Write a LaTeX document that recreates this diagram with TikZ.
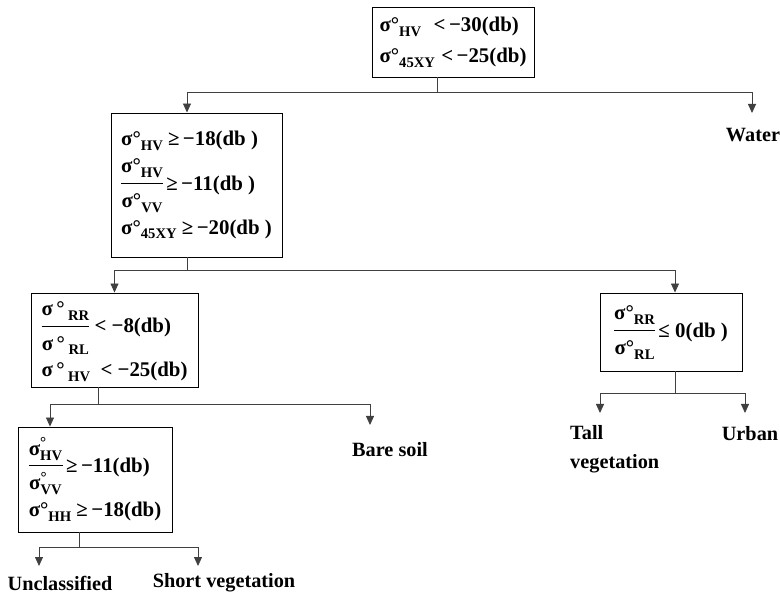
\documentclass[tikz,border=0pt]{standalone}
\usepackage{fontspec}
\setmainfont{Liberation Serif}
\usetikzlibrary{calc,arrows.meta}
\setlength{\arrayrulewidth}{1pt}

\newcommand{\sub}[1]{\raisebox{-0.5ex}{\fontsize{12.5}{13}\selectfont #1}}
\newcommand{\sg}[1]{σ°\sub{#1}}
\newcommand{\sgs}[1]{σ$^{\mbox{\fontsize{13}{13}\selectfont °}}_{\mbox{\fontsize{12.5}{13}\selectfont #1}}$}
\newcommand{\ratio}[2]{\begin{tabular}{@{}c@{}}#1\\[2pt]\hline\rule{0pt}{20pt}#2\end{tabular}}

\tikzset{
  box/.style={draw, line width=0.8pt, align=left, inner sep=0pt, font=\fontsize{17.8}{21.5}\selectfont\bfseries},
  leaf/.style={inner sep=0pt, align=left},
  link/.style={draw=black!75, line width=0.7pt},
  arr/.style={link, -{Triangle[length=0.27cm,width=0.24cm]}}
}

\begin{document}
\begin{tikzpicture}[x=0.03cm, y=-0.03cm, font=\fontsize{17.3}{21}\selectfont\bfseries]
\useasboundingbox (0,0) rectangle (780,598);

% decision boxes
\node[box, minimum width=4.86cm, minimum height=2.1cm] (top) at (453,42)
  {\sg{HV}\hspace{0.6em}<\,−30(db)\\[5pt] \sg{45XY}\hspace{0.3em}<\,−25(db)};
\node[box, minimum width=5.13cm, minimum height=4.32cm] (b2) at (196.5,185)
  {\sg{HV}\ ≥\,−18(db\ )\\[3pt] \ratio{\sg{HV}}{\sg{VV}}\,≥\,−11(db\ )\\[3pt] \sg{45XY}\ ≥\,−20(db\ )};
\node[box, minimum width=5.01cm, minimum height=2.82cm] (b3) at (114.5,340)
  {\ratio{σ\,°\,\sub{RR}}{σ\,°\,\sub{RL}}\ <\ −8(db)\\[3pt] σ\,°\,\sub{HV}\ \ <\ −25(db)};
\node[box, minimum width=4.62cm, minimum height=3.15cm] (b4) at (95,479.5)
  {\ratio{\sgs{HV}}{\sgs{VV}}\,≥\,−11(db)\\[3pt] \sg{HH}\ ≥\,−18(db)};
\node[box, minimum width=4.26cm, minimum height=2.34cm] (b5) at (671,332)
  {\ratio{\sg{RR}}{\sg{RL}}\,≤ 0(db\ )};

% classes
\node[leaf] (water) at (753,135) {Water};
\node[leaf, anchor=north west] (tall) at (570,425) {Tall\\[4pt]vegetation};
\node[leaf] (urban) at (750,434) {Urban};
\node[leaf] (bare) at (390,450) {Bare soil};
\node[leaf] (uncl) at (60,583) {Unclassified};
\node[leaf] (short) at (224,583) {Short vegetation};

\coordinate (j1) at (437,92);
\coordinate (j2) at (187,270);
\coordinate (j3) at (98,404);
\coordinate (j4) at (79,547);
\coordinate (j5) at (675,393);

\draw[link] (top.south -| j1) -- (j1);
\draw[arr] (j1) -| (b2.north -| j2);
\draw[arr] (j1) -| ($(water)+(-1,-22)$);

\draw[link] (b2.south -| j2) -- (j2);
\draw[arr] (j2) -| (b3.north);
\draw[arr] (j2) -| (b5.north -| j5);

\draw[link] (b3.south -| j3) -- (j3);
\draw[arr] (j3) -| ($(b4.north)+(-45,0)$);
\draw[arr] (j3) -| ($(bare)+(-20,-25)$);

\draw[link] (b4.south -| j4) -- (j4);
\draw[arr] (j4) -| ($(uncl)+(-21,-17)$);
\draw[arr] (j4) -| ($(short)+(-26,-17)$);

\draw[link] (b5.south -| j5) -- (j5);
\draw[arr] (j5) -| ($(tall.north west)+(30,-12)$);
\draw[arr] (j5) -| ($(urban)+(-5,-21)$);

\end{tikzpicture}
\end{document}
